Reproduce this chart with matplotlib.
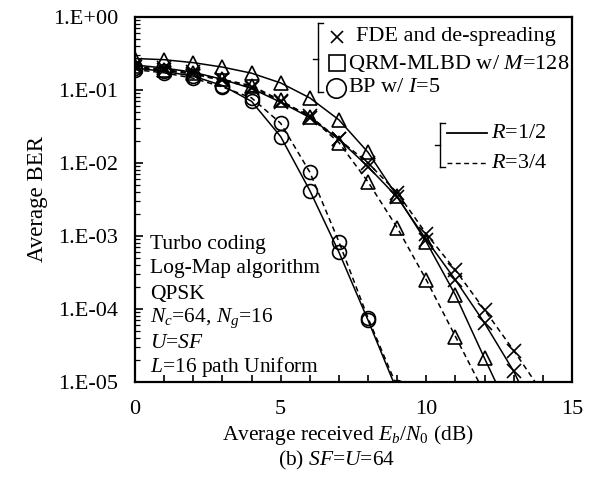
import matplotlib
matplotlib.use('Agg')
import matplotlib.pyplot as plt
from matplotlib.lines import Line2D
from matplotlib.ticker import FixedLocator, FixedFormatter, NullFormatter

plt.rcParams['font.family'] = ['Liberation Serif', 'DejaVu Serif']
plt.rcParams['mathtext.fontset'] = 'custom'
plt.rcParams['mathtext.rm'] = 'Liberation Serif'
plt.rcParams['mathtext.it'] = 'Liberation Serif:italic'

# ---- data (Eb/N0 in dB, BER) ----
snr_fde = [0, 1, 2, 3, 4, 5, 6, 7, 8, 9, 10, 11, 12, 13, 14]
fde_r12 = [0.22, 0.2, 0.175, 0.14, 0.105, 0.068, 0.042, 0.021, 0.0089, 0.0034, 8.9e-4, 2.5e-4, 6.4e-5, 1.4e-5, 2.0e-6]
fde_r34 = [0.205, 0.185, 0.165, 0.135, 0.11, 0.07, 0.044, 0.021, 0.010, 0.0039, 1.07e-3, 3.4e-4, 9.7e-5, 2.7e-5, 7e-6]

snr_qrm12 = [0, 1, 2, 3, 4, 5, 6, 7, 8, 9, 10, 11, 12, 13]
qrm_r12 = [0.27, 0.26, 0.237, 0.206, 0.17, 0.125, 0.078, 0.039, 0.014, 0.0035, 8.3e-4, 1.55e-4, 2.1e-5, 3e-6]
snr_qrm34 = [0, 1, 2, 3, 4, 5, 6, 7, 8, 9, 10, 11, 12]
qrm_r34 = [0.21, 0.19, 0.17, 0.14, 0.115, 0.072, 0.043, 0.019, 0.0055, 0.0013, 2.5e-4, 4.2e-5, 7e-6]

snr_bp = [0, 1, 2, 3, 4, 5, 6, 7, 8, 9]
bp_r12 = [0.2, 0.18, 0.155, 0.115, 0.07, 0.023, 0.0042, 6.0e-4, 7.0e-5, 7.5e-6]
bp_r34 = [0.19, 0.172, 0.145, 0.11, 0.078, 0.035, 0.0075, 8.3e-4, 7.5e-5, 8.5e-6]

ytick_vals = [1e0, 1e-1, 1e-2, 1e-3, 1e-4, 1e-5]
ytick_labels = ['1.E+00', '1.E-01', '1.E-02', '1.E-03', '1.E-04', '1.E-05']
xtick_vals = [0, 5, 10, 15]

W, H = 597, 487
fig = plt.figure(figsize=(W / 100, H / 100), dpi=100)
L, R, T, B = 135, 572, 17, 382
ax = fig.add_axes([L / W, 1 - B / H, (R - L) / W, (B - T) / H])

dash = (0, (3.5, 2.5))
lw = 1.1
mew = 1.2
common = dict(color='black', lw=lw, mfc='none', mec='black', mew=mew)
ax.plot(snr_fde, fde_r12, ls='-', marker='x', ms=10, **common)
ax.plot(snr_fde, fde_r34, ls=dash, marker='x', ms=10, **common)
ax.plot(snr_qrm12, qrm_r12, ls='-', marker='^', ms=10.5, **common)
ax.plot(snr_qrm34, qrm_r34, ls=dash, marker='^', ms=10.5, **common)
ax.plot(snr_bp, bp_r12, ls='-', marker='o', ms=10, **common)
ax.plot(snr_bp, bp_r34, ls=dash, marker='o', ms=10, **common)

ax.set_yscale('log')
ax.set_ylim(1e-5, 1e0)
ax.set_xlim(0, 15)
ax.yaxis.set_major_locator(FixedLocator(ytick_vals))
ax.yaxis.set_major_formatter(FixedFormatter(ytick_labels))
ax.yaxis.set_minor_formatter(NullFormatter())
ax.set_xticks(xtick_vals)
ax.set_xticks(range(0, 16), minor=True)
ax.tick_params(axis='y', which='major', direction='in', length=6, width=1.2, pad=12, labelsize=16)
ax.tick_params(axis='y', which='minor', direction='in', length=3.5, width=0.9)
ax.tick_params(axis='x', which='both', direction='in', length=5, width=1.2, pad=13, labelsize=16)
for s in ax.spines.values():
    s.set_linewidth(1.6)

ax.set_ylabel('Average BER', fontsize=16.5, labelpad=4)
fig.text(348 / W, 1 - 435 / H, 'Average received $E_b$/$N_0$ (dB)', ha='center', va='center', fontsize=15.5)
fig.text(337 / W, 1 - 460 / H, '(b) $SF$=$U$=64', ha='center', va='center', fontsize=15.5)


def P(px, py):
    return ((px - L) / (R - L), (B - py) / (B - T))


tr = ax.transAxes
# legend 1 bracket
for (x0, y0), (x1, y1) in [((318, 23), (318, 92)), ((318, 23), (323, 23)), ((318, 92), (323, 92)), ((313, 59), (318, 59))]:
    a, b = P(x0, y0), P(x1, y1)
    ax.add_line(Line2D([a[0], b[0]], [a[1], b[1]], transform=tr, color='black', lw=1.0, clip_on=False))

mk = [('x', 8, 337, 37, 'FDE and de-spreading', 356),
      ('s', 12, 337, 63, 'QRM-MLBD w/ $M$=128', 348),
      ('o', 14, 336, 88, 'BP w/ $I$=5', 348)]
for m, ms, mx, my, txt, tx in mk:
    p = P(mx, my)
    ax.plot([p[0]], [p[1]], marker=m, ms=ms, mfc='none', mec='black', mew=1.2, ls='none', transform=tr, clip_on=False)
    q = P(tx, my)
    ax.text(q[0], q[1], txt, transform=tr, ha='left', va='center', fontsize=16)

# legend 2 bracket
for (x0, y0), (x1, y1) in [((440, 123), (440, 167)), ((440, 123), (445, 123)), ((440, 167), (445, 167)), ((435, 145), (440, 145))]:
    a, b = P(x0, y0), P(x1, y1)
    ax.add_line(Line2D([a[0], b[0]], [a[1], b[1]], transform=tr, color='black', lw=1.0, clip_on=False))
for ls, ly, txt in [('-', 133, '$R$=1/2'), (dash, 163, '$R$=3/4')]:
    a, b = P(447, ly), P(487, ly)
    ax.add_line(Line2D([a[0], b[0]], [a[1], b[1]], transform=tr, color='black', lw=1.3 if ls == '-' else 1.0, ls=ls))
    q = P(491, ly)
    ax.text(q[0], q[1], txt, transform=tr, ha='left', va='center', fontsize=16)

# text block
lines = ['Turbo coding', 'Log-Map algorithm', 'QPSK', '$N_c$=64, $N_g$=16', '$U$=$SF$', '$L$=16 path Uniform']
ys = [245, 269, 294, 318, 343, 367]
for txt, yy in zip(lines, ys):
    q = P(150, yy)
    ax.text(q[0], q[1], txt, transform=tr, ha='left', va='center', fontsize=15.5)

fig.savefig('out.png', dpi=100)
